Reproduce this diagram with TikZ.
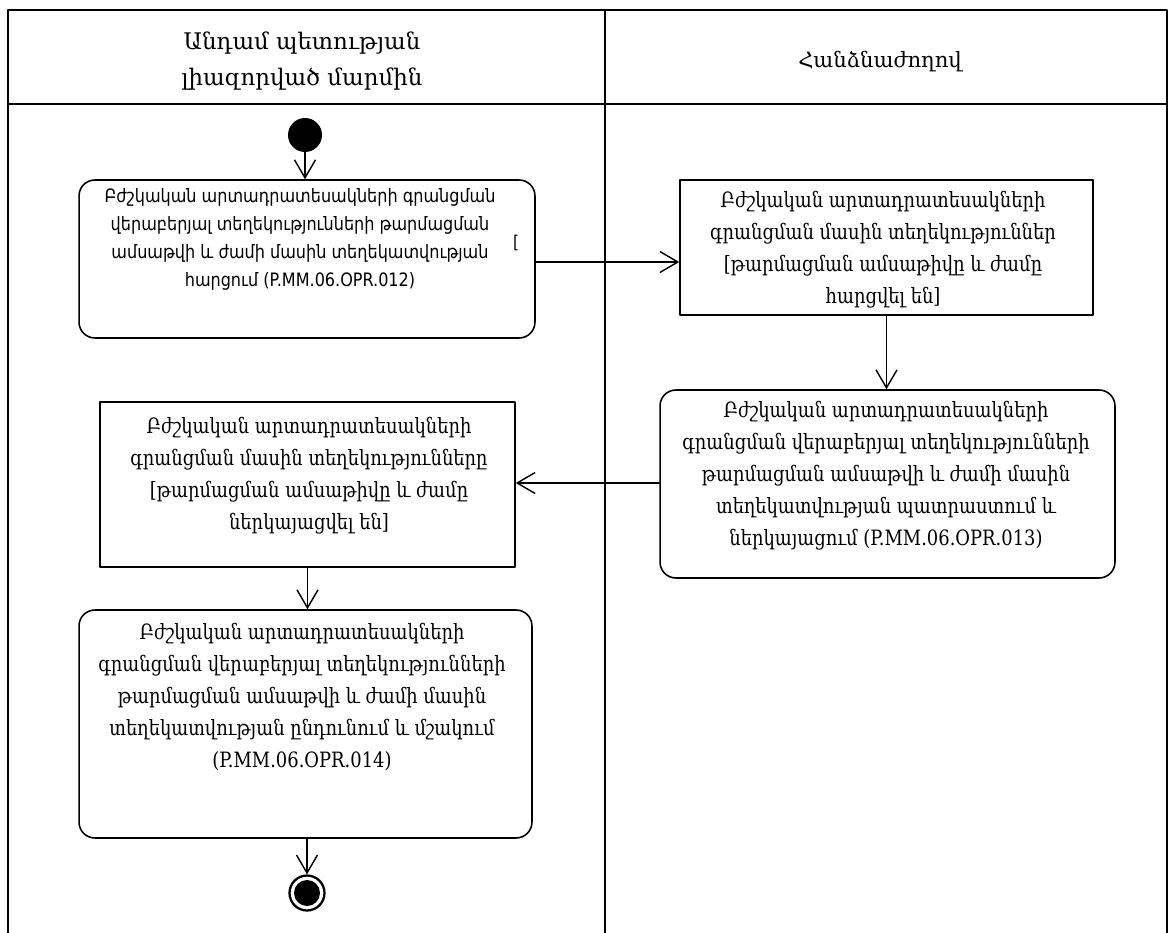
\documentclass[tikz,border=0pt]{standalone}
\usepackage{fontspec}
\setmainfont{DejaVu Serif}
\newfontfamily\armserif[FakeStretch=0.85]{DejaVu Serif}
\newfontfamily\armsans[FakeStretch=0.87]{DejaVu Sans}
\usetikzlibrary{arrows.meta}

\tikzset{
  lane/.style={line width=1pt},
  act/.style={draw,rounded corners=9pt,line width=0.9pt,inner sep=0pt},
  obj/.style={draw,line width=0.9pt,inner sep=0pt},
  txt/.style={align=center,inner sep=0pt,font=\armserif\fontsize{12}{18.2}\selectfont},
  flow/.style={-{Straight Barb[length=3.6mm,width=4.2mm]},line width=0.8pt}
}

\begin{document}
\begin{tikzpicture}[x=0.02cm,y=-0.02cm,line cap=round,line join=round]
  \useasboundingbox (0,0) rectangle (1170,933);

  % swimlanes
  \draw[lane] (8,933) -- (8,10) -- (1167,10) -- (1167,933);
  \draw[lane] (605,10) -- (605,933);
  \draw[lane] (8,104) -- (1167,104);
  \node[txt,font=\fontsize{13}{20}\selectfont] (hleft) at (302,61)
    {Անդամ պետության\\լիազորված մարմին};
  \node[txt,font=\fontsize{12}{18}\selectfont] (hright) at (880,62) {Հանձնաժողով};

  % start / end
  \node[circle,fill=black,minimum size=0.68cm,inner sep=0pt] (start) at (305,135) {};
  \node[circle,draw,line width=1.3pt,minimum size=0.7cm,inner sep=0pt] (stop) at (307,893) {};
  \fill (stop) circle (0.26cm);

  % activities and objects
  \node[act,minimum width=9.12cm,minimum height=3.16cm] (box1) at (307,259) {};
  \node[txt,font=\armsans\fontsize{10.5}{15.9}\selectfont] (t1) at (300,239.5)
    {Բժշկական արտադրատեսակների գրանցման\\
     վերաբերյալ տեղեկությունների թարմացման\\
     ամսաթվի և ժամի մասին տեղեկատվության\\
     հարցում (P.MM.06.OPR.012)};
  \node[inner sep=0pt,font=\armsans\fontsize{10}{10}\selectfont] (stray) at (516,243) {[};

  \node[obj,minimum width=8.26cm,minimum height=2.7cm] (box2) at (886.5,247.5) {};
  \node[txt] (t2) at (883,250)
    {Բժշկական արտադրատեսակների\\
     գրանցման մասին տեղեկություններ\\
     {[}թարմացման ամսաթիվը և ժամը\\
     հարցվել են]};

  \node[act,minimum width=9.1cm,minimum height=3.76cm] (box3) at (887.5,484) {};
  \node[txt] (t3) at (886,476)
    {Բժշկական արտադրատեսակների\\
     գրանցման վերաբերյալ տեղեկությունների\\
     թարմացման ամսաթվի և ժամի մասին\\
     տեղեկատվության պատրաստում և\\
     ներկայացում (P.MM.06.OPR.013)};

  \node[obj,minimum width=8.3cm,minimum height=3.3cm] (box4) at (307.5,484.5) {};
  \node[txt] (t4) at (309,476)
    {Բժշկական արտադրատեսակների\\
     գրանցման մասին տեղեկությունները\\
     {[}թարմացման ամսաթիվը և ժամը\\
     ներկայացվել են]};

  \node[act,minimum width=9.06cm,minimum height=4.56cm] (box5) at (305.5,724) {};
  \node[txt] (t5) at (302,697)
    {Բժշկական արտադրատեսակների\\
     գրանցման վերաբերյալ տեղեկությունների\\
     թարմացման ամսաթվի և ժամի մասին\\
     տեղեկատվության ընդունում և մշակում\\
     (P.MM.06.OPR.014)};

  % flows
  \draw[flow] (start) -- (start |- box1.north);
  \draw[flow] (box1.east |- 0,262) -- (box2.west |- 0,262);
  \draw[flow] (box2.south) -- (box2.south |- box3.north);
  \draw[flow] (box3.west |- 0,483) -- (box4.east |- 0,483);
  \draw[flow] (box4.south) -- (box4.south |- box5.north);
  \draw[flow] (box5.south -| stop) -- (stop);
\end{tikzpicture}
\end{document}
